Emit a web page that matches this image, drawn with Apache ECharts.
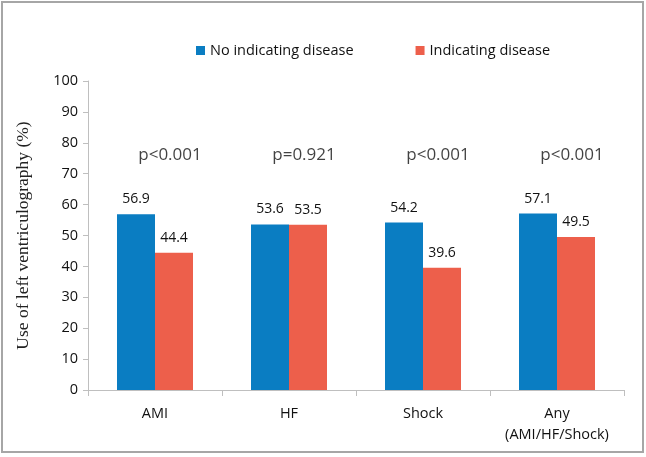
<!DOCTYPE html>
<html>
<head>
<meta charset="utf-8">
<script src="https://cdn.jsdelivr.net/npm/echarts@6/dist/echarts.min.js"></script>
<style>
html,body{margin:0;padding:0;background:#fff;}
#c{width:646px;height:457px;}
</style>
</head>
<body>
<div id="c"></div>
<script>
const categories = ['AMI', 'HF', 'Shock', 'Any\n(AMI/HF/Shock)'];
const noIndicating = [56.9, 53.6, 54.2, 57.1];
const indicating = [44.4, 53.5, 39.6, 49.5];
const pValues = ['p<0.001', 'p=0.921', 'p<0.001', 'p<0.001'];
const pLabelLevel = [76, 76, 76, 76];
const yTicks = [0, 10, 20, 30, 40, 50, 60, 70, 80, 90, 100];

const font = '"Open Sans", "Noto Sans", sans-serif';
const chart = echarts.init(document.getElementById('c'), null, {renderer: 'canvas'});
chart.setOption({
  animation: false,
  backgroundColor: '#fff',
  graphic: [{
    type: 'rect',
    shape: {x: 2, y: 2, width: 641, height: 450},
    style: {fill: 'none', stroke: '#a6a6a6', lineWidth: 2},
    silent: true
  }],
  legend: {
    top: 38,
    left: 191,
    itemGap: 62,
    itemWidth: 9,
    itemHeight: 9,
    icon: 'rect',
    data: ['No indicating disease', 'Indicating disease'],
    textStyle: {fontFamily: font, fontSize: 14.5, color: '#111'}
  },
  grid: {left: 88, right: 22, top: 81, bottom: 67, containLabel: false},
  xAxis: {
    type: 'category',
    data: categories,
    axisLine: {lineStyle: {color: '#bfbfbf'}},
    axisTick: {show: true, interval: 0, alignWithLabel: false, length: 6, lineStyle: {color: '#bfbfbf'}},
    axisLabel: {interval: 0, hideOverlap: false, fontFamily: font, fontSize: 14.5, color: '#111', margin: 13, lineHeight: 21}
  },
  yAxis: {
    type: 'value',
    min: yTicks[0],
    max: yTicks[yTicks.length - 1],
    interval: 10,
    name: 'Use of left ventriculography (%)',
    nameLocation: 'middle',
    nameGap: 56,
    nameTextStyle: {fontFamily: '"Liberation Serif", "DejaVu Serif", serif', fontSize: 17.5, color: '#222'},
    axisLine: {show: true, lineStyle: {color: '#bfbfbf'}},
    axisTick: {show: true, length: 5, lineStyle: {color: '#bfbfbf'}},
    splitLine: {show: false},
    axisLabel: {fontFamily: font, fontSize: 14.5, color: '#111', margin: 10}
  },
  series: [
    {
      name: 'No indicating disease',
      type: 'bar',
      data: noIndicating,
      barWidth: 38,
      barGap: '0%',
      itemStyle: {color: '#0a7dc2'},
      label: {show: true, position: 'top', distance: 8, fontFamily: font, fontSize: 14, color: '#111'}
    },
    {
      name: 'Indicating disease',
      type: 'bar',
      data: indicating,
      barWidth: 38,
      barGap: '0%',
      itemStyle: {color: '#ed5f4b'},
      label: {show: true, position: 'top', distance: 8, fontFamily: font, fontSize: 14, color: '#111'}
    },
    {
      name: 'p',
      type: 'scatter',
      data: pLabelLevel,
      symbolSize: 0,
      silent: true,
      label: {
        show: true,
        position: 'inside',
        offset: [15, 0],
        formatter: p => pValues[p.dataIndex],
        fontFamily: font, fontSize: 17, color: '#111'
      }
    }
  ]
});
</script>
</body>
</html>
